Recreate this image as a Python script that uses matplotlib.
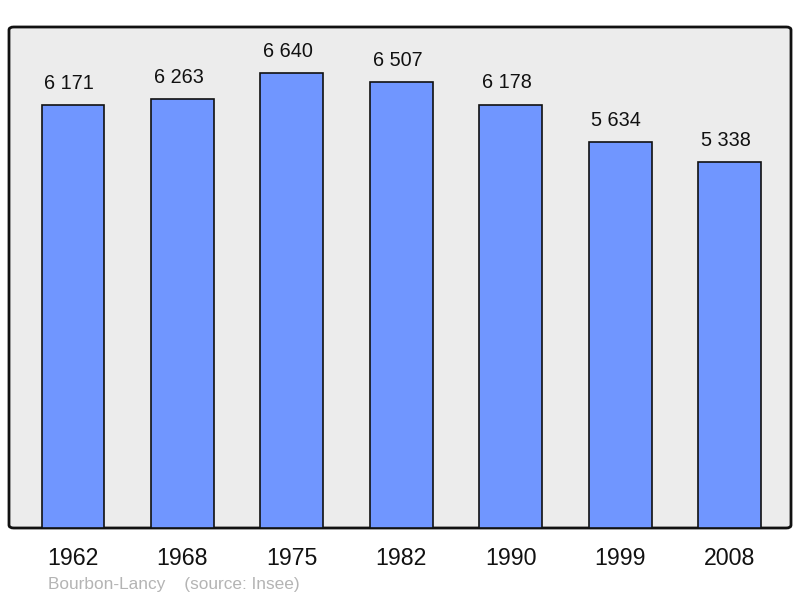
import matplotlib.pyplot as plt
from matplotlib.patches import FancyBboxPatch

plt.rcParams['font.family'] = ['Liberation Sans', 'DejaVu Sans']

years = ["1962", "1968", "1975", "1982", "1990", "1999", "2008"]
population = [6171, 6263, 6640, 6507, 6178, 5634, 5338]
labels = ["6 171", "6 263", "6 640", "6 507", "6 178", "5 634", "5 338"]

fig = plt.figure(figsize=(8, 5.98), dpi=100)
ax = fig.add_axes([9 / 800, 70 / 598, 782 / 800, 501 / 598])
ax.set_facecolor('none')

# fond gris avec coins arrondis
frame = FancyBboxPatch((0, 0), 1, 1, boxstyle="round,pad=0,rounding_size=0.006",
                       transform=ax.transAxes, facecolor='#ececec',
                       edgecolor='#111111', linewidth=2, zorder=0, clip_on=False)
ax.add_patch(frame)

x = list(range(len(years)))
ax.bar(x, population, width=0.575, color='#7096ff', edgecolor='#111111',
       linewidth=1.2, zorder=2)

for xi, v, lab in zip(x, population, labels):
    ax.text(xi - 0.035, v + 180, lab, ha='center', va='bottom', fontsize=14.3,
            color='#111111')

ax.set_xlim(-0.585, 6.56)
ax.set_ylim(0, 7312)
for s in ax.spines.values():
    s.set_visible(False)
ax.set_yticks([])
ax.set_xticks(x)
ax.set_xticklabels(years, fontsize=16.7, color='#111111')
ax.tick_params(axis='x', length=0, pad=14)

fig.text(48 / 800, 1 - 584 / 598, "Bourbon-Lancy    (source: Insee)", fontsize=12.4,
         color='#b4b4b4', va='center', ha='left')

fig.savefig('out.png', dpi=100)
